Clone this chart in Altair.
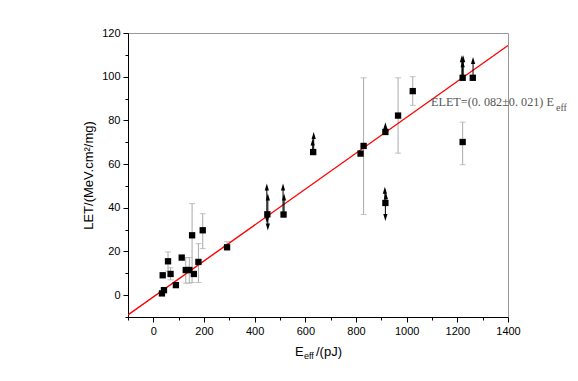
import altair as alt
import pandas as pd

# ---- data ----
sq_x = [34, 42, 37, 58, 68, 89, 112, 128, 142, 153, 160, 178, 195, 291, 450, 514,
        631, 818, 830, 916, 916, 966, 1024, 1221, 1261, 1221]
sq_y = [0.8, 2.3, 9.1, 15.5, 9.7, 4.6, 17.2, 11.5, 11.5, 27.4, 9.7, 15.2, 29.7, 21.9, 37.0, 36.9,
        65.5, 64.8, 68.3, 74.7, 42.2, 82.2, 93.4, 99.5, 99.5, 70.1]

err_x = [58, 68, 128, 142, 153, 178, 195, 291, 830, 966, 1024, 1221]
err_lo = [11.0, 7.0, 5.5, 5.5, 5.8, 5.8, 21.3, 21.9, 36.9, 65.0, 86.9, 59.7]
err_hi = [19.8, 12.5, 17.2, 17.2, 41.9, 23.6, 37.3, 24.5, 99.5, 99.5, 100.0, 79.2]

up_x = [448, 452, 512, 516, 629, 633, 916, 914, 918, 1218, 1223, 1221, 1262]
up_from = [37, 37, 37, 37, 65.5, 65.5, 74.7, 42.2, 42.2, 99.5, 99.5, 99.5, 99.5]
up_to = [49.5, 44.9, 49.5, 44.9, 70.1, 73.1, 77.5, 48.0, 45.5, 108.2, 108.2, 105.9, 107.4]

down_x = [449, 452, 916]
down_from = [37, 37, 42.2]
down_to = [34.3, 31.2, 35.6]

fit_x = [-100, 1400]
fit_y = [-9.0, 114.3]

sq = pd.DataFrame({"E": sq_x, "LET": sq_y})
err = pd.DataFrame({"E": err_x, "lo": err_lo, "hi": err_hi})
up = pd.DataFrame({"E": up_x, "y0": up_from, "y1": up_to})
down = pd.DataFrame({"E": down_x, "y0": down_from, "y1": down_to})
fit = pd.DataFrame({"E": fit_x, "LET": fit_y})

xscale = alt.Scale(domain=[-100, 1400], nice=False, zero=False)
yscale = alt.Scale(domain=[-10, 120], nice=False, zero=False)

xaxis = alt.Axis(
    values=list(range(-100, 1401, 100)), format="d",
    labelExpr="datum.value % 200 === 0 ? datum.label : ''",
    tickSize={"condition": {"test": "datum.value % 200 === 0", "value": 5}, "value": 3},
    labelFlush=False, labelOverlap=False, grid=False, labelPadding=3,
)
yaxis = alt.Axis(
    values=list(range(-10, 121, 10)), format="d",
    labelExpr="datum.value % 20 === 0 ? datum.label : ''",
    tickSize={"condition": {"test": "datum.value % 20 === 0", "value": 5}, "value": 3},
    labelFlush=False, labelOverlap=False, grid=False, labelPadding=3,
    titlePadding=6,
)


def X(field):
    return alt.X(f"{field}:Q", scale=xscale, axis=xaxis, title="")


def Y(field):
    return alt.Y(f"{field}:Q", scale=yscale, axis=yaxis, title="LET/(MeV.cm²/mg)")


fit_line = alt.Chart(fit).mark_line(color="#ff0000", strokeWidth=1.4, clip=True).encode(
    x=X("E"), y=Y("LET"))

err_rule = alt.Chart(err).mark_rule(color="#aaaaaa", strokeWidth=1).encode(
    x=X("E"), y=Y("lo"), y2="hi")
err_cap_lo = alt.Chart(err).mark_tick(color="#aaaaaa", orient="horizontal", size=6, thickness=1).encode(
    x=X("E"), y=Y("lo"))
err_cap_hi = alt.Chart(err).mark_tick(color="#aaaaaa", orient="horizontal", size=6, thickness=1).encode(
    x=X("E"), y=Y("hi"))

up_stem = alt.Chart(up).mark_rule(color="black", strokeWidth=1).encode(
    x=X("E"), y=Y("y0"), y2="y1")
up_head = alt.Chart(up).mark_point(
    shape="M0,-1L0.6,1L-0.6,1Z", filled=True, color="black", size=49, opacity=1).encode(
    x=X("E"), y=Y("y1"))
down_stem = alt.Chart(down).mark_rule(color="black", strokeWidth=1).encode(
    x=X("E"), y=Y("y0"), y2="y1")
down_head = alt.Chart(down).mark_point(
    shape="M0,1L0.6,-1L-0.6,-1Z", filled=True, color="black", size=49, opacity=1).encode(
    x=X("E"), y=Y("y1"))

squares = alt.Chart(sq).mark_point(shape="square", filled=True, color="black", size=40, opacity=1).encode(
    x=X("E"), y=Y("LET"))

one = pd.DataFrame({"k": [0]})
serif = "Liberation Serif"
lab1 = alt.Chart(one).mark_text(align="left", baseline="alphabetic", font=serif, fontSize=12.2,
                                color="#555555").encode(
    x=alt.value(303), y=alt.value(73), text=alt.value("ELET=(0. 082±0. 021) E"))
lab2 = alt.Chart(one).mark_text(align="left", baseline="alphabetic", font=serif, fontSize=10,
                                color="#555555").encode(
    x=alt.value(428), y=alt.value(78), text=alt.value("eff"))

sans = "Liberation Sans"
t1 = alt.Chart(one).mark_text(align="left", baseline="alphabetic", font=sans, fontSize=13,
                              color="black").encode(
    x=alt.value(167), y=alt.value(323), text=alt.value("E"))
t2 = alt.Chart(one).mark_text(align="left", baseline="alphabetic", font=sans, fontSize=9,
                              color="black").encode(
    x=alt.value(176), y=alt.value(326), text=alt.value("eff"))
t3 = alt.Chart(one).mark_text(align="left", baseline="alphabetic", font=sans, fontSize=13,
                              color="black").encode(
    x=alt.value(188), y=alt.value(323), text=alt.value("/(pJ)"))

chart = alt.layer(
    err_rule, err_cap_lo, err_cap_hi, fit_line,
    up_stem, down_stem, up_head, down_head, squares,
    lab1, lab2, t1, t2, t3,
).properties(
    width=380, height=284,
    autosize=alt.AutoSizeParams(type="none"),
    padding={"left": 120, "top": 25, "right": 62, "bottom": 48},
    background="white",
).configure_view(
    stroke="#999999", strokeWidth=1,
).configure_axis(
    domainColor="black", tickColor="black", labelColor="black",
    labelFont=sans, labelFontSize=11, titleFont=sans, titleFontSize=13,
    titleFontWeight="normal", titleColor="black",
)

chart.save("out.html", embed_options={"renderer": "svg", "actions": False})
